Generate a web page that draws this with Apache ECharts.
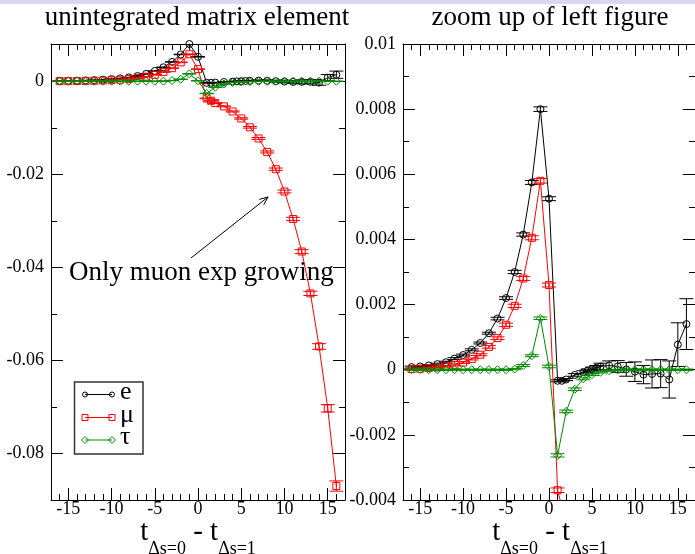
<!DOCTYPE html>
<html>
<head>
<meta charset="utf-8">
<script src="https://cdn.jsdelivr.net/npm/echarts@6/dist/echarts.min.js"></script>
<style>
  html, body { margin: 0; padding: 0; background: #fff; }
  #chart { width: 695px; height: 554px; }
</style>
</head>
<body>
<div id="chart"></div>
<script>
// values (t = t_{Δs=0} - t_{Δs=1})
const tE = [-16, -15, -14, -13, -12, -11, -10, -9, -8, -7, -6, -5, -4, -3, -2, -1, 0,
  1, 1.5, 2, 3, 4, 4.5, 5, 5.5, 6, 7, 8, 9, 10, 11, 12, 13, 14, 15, 16];
const eVal = [0.00008, 0.0001, 0.00013, 0.00017, 0.00023, 0.00034, 0.00045, 0.00061, 0.00082, 0.00112,
  0.00157, 0.0022, 0.0030, 0.00415, 0.00575, 0.0080, 0.00525,
  -0.00034, -0.00034, -0.0003, -0.00016, -0.00008, -0.00003, 0.00002, 0.00006, 0.0001, 0.00013,
  0.0001, 0.00001, -0.00006, -0.00015, -0.00013, -0.00012, -0.0003, 0.00077, 0.0014];
const eErr = [0.00003, 0.00003, 0.00003, 0.00003, 0.00003, 0.00003, 0.00003, 0.00003, 0.00003, 0.00003,
  0.00004, 0.00004, 0.00005, 0.00005, 0.00006, 0.00007, 0.00006,
  0.00003, 0.00003, 0.00003, 0.00004, 0.00005, 0.00005, 0.00006, 0.00007, 0.0001, 0.00014,
  0.00018, 0.00021, 0.0003, 0.00028, 0.00043, 0.00043, 0.00057, 0.00067, 0.00078];

const tMu = [-16, -15, -14, -13, -12, -11, -10, -9, -8, -7, -6, -5, -4, -3, -2, -1, 0,
  1, 1.5, 2, 3, 4, 5, 6, 7, 8, 9, 10, 11, 12, 13, 14, 15, 16];
const muVal = [0.00002, 0.00003, 0.00005, 0.00007, 0.0001, 0.00015, 0.00022, 0.00033, 0.00046, 0.0007,
  0.00097, 0.00138, 0.00196, 0.0028, 0.00405, 0.0058, 0.0026,
  -0.0037, -0.0042, -0.0047, -0.0054, -0.0065, -0.008, -0.0099, -0.0123, -0.0152, -0.0189,
  -0.0237, -0.0296, -0.0366, -0.0456, -0.057, -0.0703, -0.087];
const muErr = [0.00002, 0.00002, 0.00002, 0.00002, 0.00002, 0.00003, 0.00003, 0.00003, 0.00003, 0.00004,
  0.00004, 0.00005, 0.00005, 0.00006, 0.00006, 0.00007, 0.00006,
  0.00007, 0.00008, 0.0001, 0.0001, 0.00012, 0.00015, 0.00018, 0.0002, 0.00022, 0.00025,
  0.0003, 0.00035, 0.0004, 0.00045, 0.0006, 0.0008, 0.0011];

const tTau = [-16, -15, -14, -13, -12, -11, -10, -9, -8, -7, -6, -5, -4, -3, -2, -1, 0,
  1, 2, 3, 4, 5, 6, 7, 8, 9, 10, 11, 12, 13, 14, 15, 16];
const tauVal = [0, 0, 0, 0, 0, 0, 0, 0, 0, 0, 0, 0, 0.00002, 0.00013, 0.00043, 0.00158, 0.0001,
  -0.00263, -0.00128, -0.0006, -0.00028, -0.00015, -0.00008, -0.00003, -0.00001,
  0, 0, 0, 0, 0, 0, 0, 0];
const tauErr = [0.00002, 0.00002, 0.00002, 0.00002, 0.00002, 0.00002, 0.00002, 0.00002, 0.00002, 0.00002,
  0.00002, 0.00002, 0.00002, 0.00003, 0.00003, 0.00004, 0.00004,
  0.00005, 0.00004, 0.00004, 0.00003, 0.00003, 0.00002, 0.00002, 0.00002,
  0.00002, 0.00002, 0.00002, 0.00002, 0.00002, 0.00002, 0.00002, 0.00002];

// ticks
const xMajor = [-15, -10, -5, 0, 5, 10, 15];
const xMinor = [-17, -16, -14, -13, -12, -11, -9, -8, -7, -6, -4, -3, -2, -1,
  1, 2, 3, 4, 6, 7, 8, 9, 11, 12, 13, 14, 16, 17];
const leftYMajor = [-0.08, -0.06, -0.04, -0.02, 0];
const leftYMinor = [-0.07, -0.05, -0.03, -0.01];
const rightYMajor = [-0.004, -0.002, 0, 0.002, 0.004, 0.006, 0.008, 0.01];
const rightYMinor = [-0.003, -0.001, 0.001, 0.003, 0.005, 0.007, 0.009];

const SERIF = 'Liberation Serif';
const GREEN = '#008b00';

const labelFont = { color: '#000', fontSize: 18, fontFamily: SERIF };

function xAxes(g) {
  const base = {
    gridIndex: g, type: 'value', min: -17, max: 17,
    splitLine: { show: false },
    axisLine: { onZero: false, lineStyle: { color: '#000', width: 1 } }
  };
  const tk = (len, vals) => ({ inside: true, length: len, customValues: vals, lineStyle: { color: '#000', width: 1 } });
  return [
    Object.assign({}, base, { position: 'bottom', axisTick: tk(12, xMajor),
      axisLabel: Object.assign({ customValues: xMajor, margin: 0 }, labelFont) }),
    Object.assign({}, base, { position: 'bottom', axisLine: { show: false, onZero: false },
      axisTick: tk(6, xMinor), axisLabel: { show: false } }),
    Object.assign({}, base, { position: 'top', axisTick: tk(12, xMajor), axisLabel: { show: false } }),
    Object.assign({}, base, { position: 'top', axisLine: { show: false, onZero: false },
      axisTick: tk(6, xMinor), axisLabel: { show: false } })
  ];
}

function yAxes(g, min, max, major, minor) {
  const base = {
    gridIndex: g, type: 'value', min: min, max: max,
    splitLine: { show: false },
    axisLine: { onZero: false, lineStyle: { color: '#000', width: 1 } }
  };
  const tk = (len, vals) => ({ inside: true, length: len, customValues: vals, lineStyle: { color: '#000', width: 1 } });
  return [
    Object.assign({}, base, { position: 'left', axisTick: tk(12, major),
      axisLabel: Object.assign({ customValues: major, margin: 7,
        formatter: v => String(parseFloat(Number(v).toPrecision(4))) }, labelFont) }),
    Object.assign({}, base, { position: 'left', axisLine: { show: false, onZero: false },
      axisTick: tk(6, minor), axisLabel: { show: false } }),
    Object.assign({}, base, { position: 'right', axisTick: tk(12, major), axisLabel: { show: false } }),
    Object.assign({}, base, { position: 'right', axisLine: { show: false, onZero: false },
      axisTick: tk(6, minor), axisLabel: { show: false } })
  ];
}

function lineSeries(g, name, t, v, symbol, size, color, z) {
  return {
    type: 'line', name: name, xAxisIndex: g * 4, yAxisIndex: g * 4, z: z,
    data: t.map((x, i) => [x, v[i]]),
    symbol: symbol, symbolSize: size, showAllSymbol: true, clip: true,
    lineStyle: { color: color, width: 1 },
    itemStyle: { color: 'rgba(0,0,0,0)', borderColor: color, borderWidth: 1 },
    emphasis: { disabled: true }, silent: true, animation: false
  };
}

function errSeries(g, t, v, e, color, z) {
  return {
    type: 'custom', xAxisIndex: g * 4, yAxisIndex: g * 4, z: z, clip: true,
    silent: true, animation: false,
    data: t.map((x, i) => [x, v[i], e[i]]),
    encode: { x: 0, y: 1 },
    renderItem: function (params, api) {
      const x = api.value(0), y = api.value(1), err = api.value(2);
      const lo = api.coord([x, y - err]);
      const hi = api.coord([x, y + err]);
      const w = 7;
      const st = { stroke: color, lineWidth: 1 };
      return {
        type: 'group',
        children: [
          { type: 'line', shape: { x1: lo[0], y1: lo[1], x2: hi[0], y2: hi[1] }, style: st },
          { type: 'line', shape: { x1: lo[0] - w, y1: lo[1], x2: lo[0] + w, y2: lo[1] }, style: st },
          { type: 'line', shape: { x1: hi[0] - w, y1: hi[1], x2: hi[0] + w, y2: hi[1] }, style: st }
        ]
      };
    }
  };
}

function panelSeries(g) {
  return [
    errSeries(g, tE, eVal, eErr, '#000', 2),
    lineSeries(g, 'e', tE, eVal, 'circle', 7, '#000', 3),
    errSeries(g, tMu, muVal, muErr, '#ff0000', 4),
    lineSeries(g, 'μ', tMu, muVal, 'rect', 7, '#ff0000', 5),
    errSeries(g, tTau, tauVal, tauErr, GREEN, 6),
    lineSeries(g, 'τ', tTau, tauVal, 'diamond', 8, GREEN, 7)
  ];
}

// arrow for the annotation
const arrowFrom = [191, 258], arrowTo = [268, 197];
const ang = Math.atan2(arrowTo[1] - arrowFrom[1], arrowTo[0] - arrowFrom[0]);
const head = (d) => [arrowTo[0] - 9 * Math.cos(ang + d), arrowTo[1] - 9 * Math.sin(ang + d)];

const subTitle = '{t|t}{s|Δs=0}{t| - t}{s|Δs=1}';
const subRich = {
  t: { fontSize: 29, lineHeight: 30, fontFamily: SERIF, fill: '#000' },
  s: { fontSize: 18, lineHeight: 18, fontFamily: SERIF, fill: '#000', padding: [34, 0, 0, 0] }
};

function bigText(x, y, text, align, size) {
  return { type: 'text', x: x, y: y, z: 20,
    style: { text: text, fontSize: size, fontFamily: SERIF, fill: '#000', align: align, verticalAlign: 'middle' } };
}

function legendEntry(y, symbolShape, color, label) {
  const sym = (cx) => {
    if (symbolShape === 'circle') return { type: 'circle', shape: { cx: cx, cy: y, r: 2.5 }, style: { fill: 'none', stroke: color, lineWidth: 1 } };
    if (symbolShape === 'rect') return { type: 'rect', shape: { x: cx - 3, y: y - 3, width: 6, height: 6 }, style: { fill: 'none', stroke: color, lineWidth: 1 } };
    return { type: 'polygon', shape: { points: [[cx, y - 3.5], [cx + 3.5, y], [cx, y + 3.5], [cx - 3.5, y]] }, style: { fill: 'none', stroke: color, lineWidth: 1 } };
  };
  return [
    { type: 'line', shape: { x1: 85, y1: y, x2: 112, y2: y }, style: { stroke: color, lineWidth: 1 } },
    sym(85), sym(112),
    bigText(120, y - 2.5, label, 'left', 26)
  ];
}

const chart = echarts.init(document.getElementById('chart'));
chart.setOption({
  backgroundColor: '#fff',
  animation: false,
  grid: [
    { left: 51, top: 44, width: 294, height: 456 },
    { left: 403, top: 44, width: 294, height: 456 }
  ],
  xAxis: xAxes(0).concat(xAxes(1)),
  yAxis: yAxes(0, -0.09, 0.008, leftYMajor, leftYMinor)
    .concat(yAxes(1, -0.004, 0.01, rightYMajor, rightYMinor)),
  series: panelSeries(0).concat(panelSeries(1)),
  graphic: [
    { type: 'rect', shape: { x: 0, y: 0, width: 695, height: 4 }, style: { fill: '#d8d8f2' }, z: 10 },
    bigText(197, 17.5, 'unintegrated matrix element', 'center', 27),
    bigText(550, 17.5, 'zoom up of left figure', 'center', 27),
    { type: 'text', x: 198, y: 532, style: { text: subTitle, rich: subRich, align: 'center', verticalAlign: 'middle' } },
    { type: 'text', x: 550, y: 532, style: { text: subTitle, rich: subRich, align: 'center', verticalAlign: 'middle' } },
    bigText(69, 272.5, 'Only muon exp growing', 'left', 27),
    { type: 'polyline', z: 20, shape: { points: [arrowFrom, arrowTo] }, style: { stroke: '#000', lineWidth: 1 } },
    { type: 'polyline', z: 20, shape: { points: [head(0.4), arrowTo, head(-0.4)] }, style: { stroke: '#000', lineWidth: 1, fill: 'none' } },
    {
      type: 'group', z: 20,
      children: [
        { type: 'rect', shape: { x: 74.5, y: 382, width: 68.5, height: 72 }, style: { fill: '#fff', stroke: '#333', lineWidth: 1.5 } }
      ].concat(
        legendEntry(394.5, 'circle', '#000', 'e'),
        legendEntry(417.5, 'rect', '#ff0000', 'μ'),
        legendEntry(440, 'diamond', GREEN, 'τ')
      )
    }
  ]
});
</script>
</body>
</html>
